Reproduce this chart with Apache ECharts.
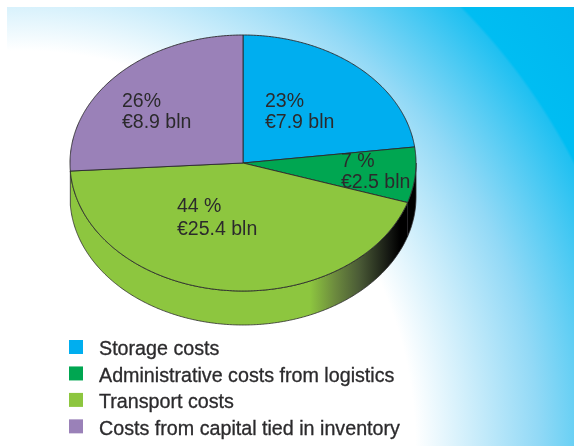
<!DOCTYPE html>
<html>
<head>
<meta charset="utf-8">
<style>
html, body { margin: 0; padding: 0; background: #fff; }
#main { width: 574px; height: 446px; }
</style>
<script src="https://cdn.jsdelivr.net/npm/echarts@6/dist/echarts.min.js"></script>
</head>
<body>
<div id="main"></div>
<script>
const categories = ['Storage costs', 'Administrative costs from logistics', 'Transport costs', 'Costs from capital tied in inventory'];
const percents = [23, 7, 44, 26];
const percentLabels = ['23%', '7 %', '44 %', '26%'];
const billions = [7.9, 2.5, 25.4, 8.9];

const colors = ['#00aeef', '#00a651', '#8dc63f', '#9a81b8'];
// where the two text lines of each slice start, and their spacing
const labelPos = [[265, 91, 21], [341, 151, 21], [177, 195, 23], [122, 91, 21]];
const cx = 243, cy = 163, rx = 173, ry = 128, depth = 34;
const edge = '#2b2a2c';

let total = percents.reduce(function (a, b) { return a + b; }, 0);

function rimPoint(deg, drop) {
    let a = deg * Math.PI / 180;
    return [cx + rx * Math.sin(a), cy - ry * Math.cos(a) + drop];
}

function arc(from, to, drop) {
    let pts = [];
    let steps = Math.ceil(Math.abs(to - from) * 2);
    for (let i = 0; i <= steps; i++) {
        pts.push(rimPoint(from + (to - from) * i / steps, drop));
    }
    return pts;
}

function sliceRange(index) {
    let before = 0;
    for (let i = 0; i < index; i++) before += percents[i];
    return [before / total * 360, (before + percents[index]) / total * 360];
}

// walls only for slices that sit mostly on the front half of the pie
function wall(index) {
    let r = sliceRange(index);
    let mid = (r[0] + r[1]) / 2;
    if (mid < 90 || mid > 270) return null;
    let from = Math.max(r[0], 90), to = Math.min(r[1], 270);
    let fill = index === 2
        ? new echarts.graphic.LinearGradient(310, 0, 400, 0, [
            { offset: 0, color: colors[2] },
            { offset: 0.28, color: '#6c8a3e' },
            { offset: 0.55, color: '#4a5a36' },
            { offset: 0.88, color: '#141712' },
            { offset: 1, color: '#000000' }
        ], true)
        : '#000000';
    return {
        type: 'polygon',
        shape: { points: arc(from, to, 0).concat(arc(to, from, depth)) },
        style: { fill: fill, stroke: edge, lineWidth: 0.8 }
    };
}

function renderSlice(index) {
    return function () {
        let r = sliceRange(index);
        let children = [];
        let w = wall(index);
        if (w) children.push(w);
        children.push({
            type: 'polygon',
            shape: { points: [[cx, cy]].concat(arc(r[0], r[1], 0)) },
            style: { fill: colors[index], stroke: edge, lineWidth: 0.9 }
        });
        children.push({
            type: 'text',
            x: labelPos[index][0],
            y: labelPos[index][1],
            style: {
                text: percentLabels[index] + '\n€' + billions[index] + ' bln',
                font: '19.5px "Liberation Sans"',
                lineHeight: labelPos[index][2],
                fill: '#2b2a2c',
                textAlign: 'left',
                textVerticalAlign: 'top'
            }
        });
        return { type: 'group', children: children };
    };
}

let chart = echarts.init(document.getElementById('main'));
chart.setOption({
    animation: false,
    graphic: [{
        type: 'rect',
        silent: true,
        shape: { x: 7, y: 7, width: 567, height: 439 },
        style: {
            fill: new echarts.graphic.RadialGradient(20, 446, 720, [
                { offset: 0, color: '#ffffff' },
                { offset: 0.549, color: '#ffffff' },
                { offset: 0.72, color: '#92d9f6' },
                { offset: 0.862, color: '#1fc0f1' },
                { offset: 0.866, color: '#00bdf2' },
                { offset: 1, color: '#00b5ef' }
            ], true)
        }
    }],
    legend: {
        orient: 'vertical',
        left: 69,
        top: 334,
        padding: 0,
        itemWidth: 14,
        itemHeight: 14,
        itemGap: 0.3,
        icon: 'rect',
        selectedMode: false,
        data: categories,
        formatter: function (name) { return '{t|' + name + '}'; },
        textStyle: {
            rich: {
                t: {
                    color: '#2b2a2c',
                    fontFamily: 'Liberation Sans',
                    fontSize: 19.7,
                    lineHeight: 20,
                    padding: [6, 0, 0, 11],
                    textBorderColor: '#2b2a2c',
                    textBorderWidth: 0.3
                }
            }
        }
    },
    series: categories.map(function (name, i) {
        return {
            type: 'custom',
            name: name,
            coordinateSystem: 'none',
            silent: true,
            itemStyle: { color: colors[i] },
            data: [percents[i]],
            renderItem: renderSlice(i)
        };
    })
});
</script>
</body>
</html>
